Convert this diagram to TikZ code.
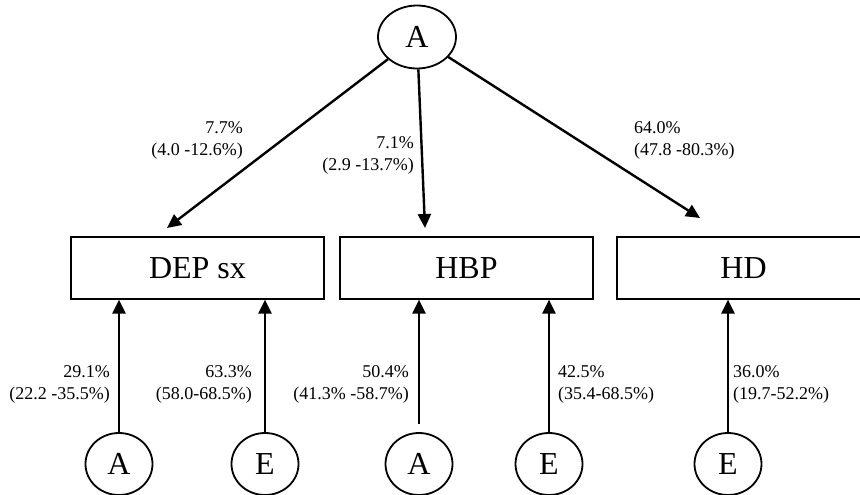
\documentclass[tikz,border=0pt]{standalone}
\usepackage{fontspec}
\setmainfont{Liberation Serif}
\usepackage{xcolor}
\usetikzlibrary{arrows.meta,shapes.geometric}
\definecolor{bg}{HTML}{FFFFFF}
\definecolor{ink}{HTML}{000000}
\tikzset{
  latent/.style={draw=ink, ellipse, line width=1.8pt, minimum width=67pt, minimum height=62pt, inner sep=0pt, font=\fontsize{32}{36}\selectfont},
  trait/.style={draw=ink, rectangle, line width=1.2pt, minimum width=253pt, minimum height=62pt, inner sep=0pt, font=\fontsize{32}{36}\selectfont},
  path/.style={draw=ink, line width=2.4pt, -{Triangle[length=14pt,width=13pt]}},
  est/.style={text=ink, font=\fontsize{18}{22}\selectfont, inner sep=0pt},
}
\begin{document}
\begin{tikzpicture}[x=1pt,y=-1pt]
  \clip (0,0) rectangle (860,495);
  \fill[bg] (0,0) rectangle (860,495);
  % latent factor on top
  \node[latent, minimum width=78pt, minimum height=63pt] (topA) at (417,37) {A};
  % phenotypes
  \node[trait] (dep) at (197.5,268) {DEP sx};
  \node[trait] (hbp) at (466.5,268) {HBP};
  \node[trait] (hd)  at (743.5,268) {HD};
  % specific factors
  \node[latent] (a1) at (119,464) {A};
  \node[latent] (e1) at (265,464) {E};
  \node[latent] (a2) at (419,464) {A};
  \node[latent] (e2) at (549,464) {E};
  \node[latent] (e3) at (728,464) {E};
  % arrow ends above the boxes
  \coordinate (tipdep) at (167,228);
  \coordinate (tiphbp) at (425,228);
  \coordinate (tiphd)  at (700,218);
  \draw[path] (topA) -- (tipdep);
  \draw[path] (topA) -- (tiphbp);
  \draw[path] (topA) -- (tiphd);
  \draw[path] (a1.north) -- (a1.north |- dep.south);
  \draw[path] (e1.north) -- (e1.north |- dep.south);
  \draw[path, shorten <=8pt] (a2.north) -- (a2.north |- hbp.south);
  \draw[path] (e2.north) -- (e2.north |- hbp.south);
  \draw[path] (e3.north) -- (e3.north |- hd.south);
  % estimates
  \node[est, anchor=east, align=right] (ldep) at (243,140) {7.7\%\\(4.0 -12.6\%)};
  \node[est, anchor=east, align=right] (lhbp) at (414,155) {7.1\%\\(2.9 -13.7\%)};
  \node[est, anchor=west, align=left]  (lhd)  at (634,140) {64.0\%\\(47.8 -80.3\%)};
  \node[est, anchor=east, align=right] (la1) at (110,384) {29.1\%\\(22.2 -35.5\%)};
  \node[est, anchor=east, align=right] (le1) at (252,384) {63.3\%\\(58.0-68.5\%)};
  \node[est, anchor=east, align=right] (la2) at (409,384) {50.4\%\\(41.3\% -58.7\%)};
  \node[est, anchor=west, align=left]  (le2) at (558,384) {42.5\%\\(35.4-68.5\%)};
  \node[est, anchor=west, align=left]  (le3) at (733,384) {36.0\%\\(19.7-52.2\%)};
\end{tikzpicture}
\end{document}
